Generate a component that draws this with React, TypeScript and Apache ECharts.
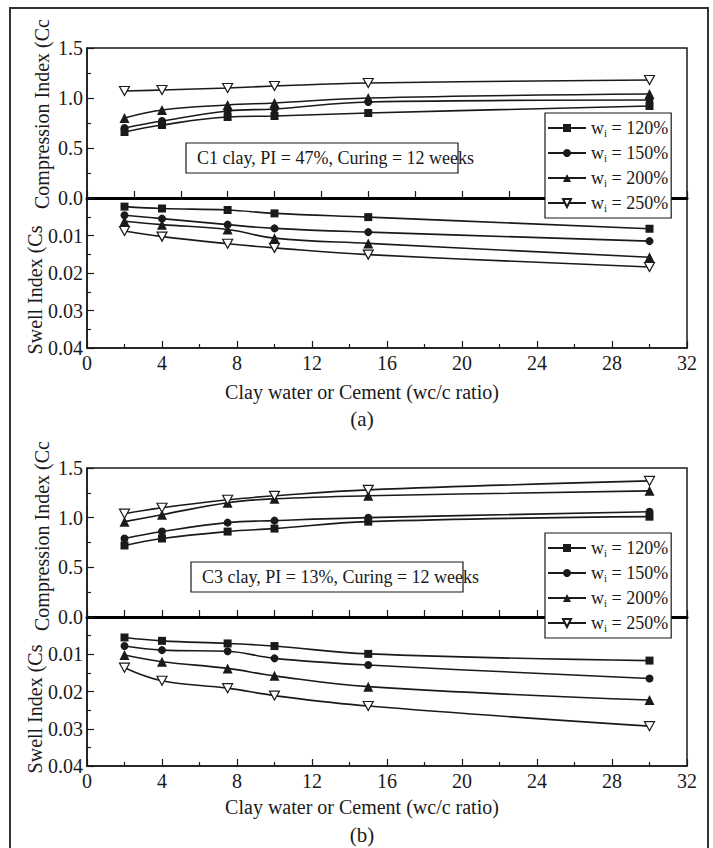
import React, { useEffect, useRef } from "react";
import * as echarts from "echarts";

const FONT = "Liberation Serif, Times New Roman, serif";
const INK = "#1a1a1a";

// x values (clay water / cement ratio)
const xValues = [2, 4, 7.5, 10, 15, 30];
const seriesNames = ["wi = 120%", "wi = 150%", "wi = 200%", "wi = 250%"];

// Panel (a) C1 clay — compression index
const a_cc120 = [0.66, 0.73, 0.81, 0.82, 0.85, 0.92];
const a_cc150 = [0.7, 0.77, 0.87, 0.89, 0.96, 0.98];
const a_cc200 = [0.8, 0.88, 0.93, 0.95, 1.0, 1.04];
const a_cc250 = [1.07, 1.08, 1.1, 1.12, 1.15, 1.18];
// Panel (a) — swell index
const a_cs120 = [0.0023, 0.0028, 0.0032, 0.0041, 0.0051, 0.0082];
const a_cs150 = [0.0046, 0.0055, 0.0071, 0.0081, 0.0091, 0.0115];
const a_cs200 = [0.0062, 0.0071, 0.0084, 0.0107, 0.0121, 0.0158];
const a_cs250 = [0.0088, 0.0103, 0.0122, 0.0133, 0.0151, 0.0184];

// Panel (b) C3 clay — compression index
const b_cc120 = [0.72, 0.79, 0.86, 0.89, 0.96, 1.01];
const b_cc150 = [0.79, 0.86, 0.95, 0.97, 1.0, 1.06];
const b_cc200 = [0.96, 1.03, 1.15, 1.19, 1.22, 1.27];
const b_cc250 = [1.04, 1.1, 1.18, 1.22, 1.28, 1.37];
// Panel (b) — swell index
const b_cs120 = [0.0055, 0.0064, 0.0071, 0.0078, 0.0099, 0.0117];
const b_cs150 = [0.0078, 0.0089, 0.0092, 0.0111, 0.0129, 0.0165];
const b_cs200 = [0.0102, 0.012, 0.0138, 0.0158, 0.0187, 0.0223];
const b_cs250 = [0.0136, 0.0171, 0.0191, 0.0211, 0.0239, 0.0293];

const annotationA = "C1 clay, PI = 47%, Curing = 12 weeks";
const annotationB = "C3 clay, PI = 13%, Curing = 12 weeks";
const xName = "Clay water or Cement (wc/c ratio)";

const SYMBOLS = [
  { symbol: "rect", size: 8, fill: INK },
  { symbol: "circle", size: 8, fill: INK },
  { symbol: "triangle", size: 10, fill: INK },
  { symbol: "path://M0,0 L10,0 L5,9 Z", size: [10, 9], fill: "#ffffff" },
];

function makeSeries(idx: number, values: number[], axisIndex: number) {
  const s = SYMBOLS[idx];
  return {
    type: "line",
    name: seriesNames[idx],
    xAxisIndex: axisIndex,
    yAxisIndex: axisIndex,
    data: xValues.map((x, i) => [x, values[i]]),
    smooth: 0.4,
    symbol: s.symbol,
    symbolSize: s.size,
    showAllSymbol: true,
    lineStyle: { color: INK, width: 1.6 },
    itemStyle: { color: s.fill, borderColor: INK, borderWidth: idx === 3 ? 1.2 : 0 },
    emphasis: { disabled: true },
    z: 5 + idx,
  };
}

function gridDef(top: number, height: number) {
  return {
    left: 87,
    top,
    width: 600,
    height,
    show: true,
    borderColor: INK,
    borderWidth: 1.5,
    backgroundColor: "transparent",
  };
}

const labelStyle = { fontFamily: FONT, fontSize: 20, color: INK };

function upperX(grid: number, interval: number) {
  return {
    type: "value",
    gridIndex: grid,
    min: 0,
    max: 32,
    interval,
    axisLine: { show: true, onZero: false, lineStyle: { color: "#000", width: 3 } },
    axisTick: { show: true, inside: true, length: 7, lineStyle: { color: INK, width: 1.2 } },
    axisLabel: { show: false },
    splitLine: { show: false },
  };
}

function lowerX(grid: number) {
  return {
    type: "value",
    gridIndex: grid,
    min: 0,
    max: 32,
    interval: 4,
    axisLine: { show: true, onZero: false, lineStyle: { color: INK, width: 1.5 } },
    axisTick: { show: true, inside: true, length: 7, lineStyle: { color: INK, width: 1.2 } },
    minorTick: { show: true, splitNumber: 2, length: 4, lineStyle: { color: INK, width: 1.2 } },
    axisLabel: { ...labelStyle, margin: 5 },
    splitLine: { show: false },
  };
}

function upperY(grid: number) {
  return {
    type: "value",
    gridIndex: grid,
    min: 0,
    max: 1.5,
    interval: 0.5,
    axisLine: { show: true, onZero: false, lineStyle: { color: INK, width: 1.5 } },
    axisTick: { show: true, inside: true, length: 7, lineStyle: { color: INK, width: 1.2 } },
    minorTick: { show: true, splitNumber: 2, length: 4, lineStyle: { color: INK, width: 1.2 } },
    axisLabel: { ...labelStyle, margin: 4, formatter: (v: number) => v.toFixed(1) },
    splitLine: { show: false },
  };
}

function lowerY(grid: number) {
  return {
    type: "value",
    gridIndex: grid,
    inverse: true,
    min: 0,
    max: 0.04,
    interval: 0.01,
    axisLine: { show: true, onZero: false, lineStyle: { color: INK, width: 1.5 } },
    axisTick: { show: true, inside: true, length: 7, lineStyle: { color: INK, width: 1.2 } },
    minorTick: { show: true, splitNumber: 2, length: 4, lineStyle: { color: INK, width: 1.2 } },
    axisLabel: {
      ...labelStyle,
      margin: 4,
      formatter: (v: number) => (v === 0 ? "" : v.toFixed(2)),
    },
    splitLine: { show: false },
  };
}

function legendDef(top: number) {
  return {
    orient: "vertical",
    left: 545,
    top,
    itemWidth: 38,
    itemHeight: 10,
    itemGap: 5,
    padding: [5, 3, 5, 2],
    backgroundColor: "#ffffff",
    borderColor: INK,
    borderWidth: 1.2,
    borderRadius: 0,
    selectedMode: false,
    data: seriesNames,
    formatter: (name: string) => `{w|w}{i|i}{t| = ${name.split("= ")[1]}}`,
    textStyle: {
      fontFamily: FONT,
      color: INK,
      fontSize: 18,
      lineHeight: 20,
      rich: {
        w: { fontFamily: FONT, fontSize: 18, color: INK, lineHeight: 20 },
        i: { fontFamily: FONT, fontSize: 11, color: INK, lineHeight: 12, verticalAlign: "bottom" },
        t: { fontFamily: FONT, fontSize: 18, color: INK, lineHeight: 20 },
      },
    },
    z: 20,
  };
}

function textEl(text: string, x: number, y: number, size: number, rotate = false, align = "center") {
  return {
    type: "text",
    x,
    y,
    rotation: rotate ? Math.PI / 2 : 0,
    z: 30,
    style: {
      text,
      fill: INK,
      fontFamily: FONT,
      fontSize: size,
      textAlign: align,
      textVerticalAlign: "middle",
    },
  };
}

function annotation(text: string, bx: number, by: number, bw: number, bh: number, tx: number) {
  return [
    {
      type: "rect",
      shape: { x: bx, y: by, width: bw, height: bh },
      style: { fill: "#ffffff", stroke: INK, lineWidth: 1.2 },
      z: 25,
    },
    textEl(text, tx, by + bh / 2, 18, false, "left"),
  ];
}

export default function App() {
  const ref = useRef<HTMLDivElement>(null);

  useEffect(() => {
    if (!ref.current) return;
    const chart = echarts.init(ref.current, undefined, { renderer: "svg" });

    const option = {
      animation: false,
      backgroundColor: "#ffffff",
      textStyle: { fontFamily: FONT },
      grid: [gridDef(48, 150), gridDef(198, 150), gridDef(468, 149), gridDef(617, 149)],
      xAxis: [upperX(0, 2.5), lowerX(1), upperX(2, 2), lowerX(3)],
      yAxis: [upperY(0), lowerY(1), upperY(2), lowerY(3)],
      legend: [legendDef(113), legendDef(533)],
      series: [
        makeSeries(0, a_cc120, 0),
        makeSeries(1, a_cc150, 0),
        makeSeries(2, a_cc200, 0),
        makeSeries(3, a_cc250, 0),
        makeSeries(0, a_cs120, 1),
        makeSeries(1, a_cs150, 1),
        makeSeries(2, a_cs200, 1),
        makeSeries(3, a_cs250, 1),
        makeSeries(0, b_cc120, 2),
        makeSeries(1, b_cc150, 2),
        makeSeries(2, b_cc200, 2),
        makeSeries(3, b_cc250, 2),
        makeSeries(0, b_cs120, 3),
        makeSeries(1, b_cs150, 3),
        makeSeries(2, b_cs200, 3),
        makeSeries(3, b_cs250, 3),
      ],
      graphic: [
        {
          type: "rect",
          shape: { x: 10, y: 8, width: 698, height: 870 },
          style: { fill: "none", stroke: "#333", lineWidth: 2 },
          z: 1,
        },
        textEl("Compression Index (Cc", 42, 114, 20, true),
        textEl("Swell Index (Cs", 35, 290, 20, true),
        textEl(xName, 362, 392, 20),
        textEl("(a)", 362, 419, 21),
        textEl("Compression Index (Cc", 42, 536, 20, true),
        textEl("Swell Index (Cs", 35, 709, 20, true),
        textEl(xName, 362, 807, 20),
        textEl("(b)", 362, 835, 21),
        ...annotation(annotationA, 186, 143, 272, 30, 197),
        ...annotation(annotationB, 191, 562, 272, 30, 202),
      ],
    };

    chart.setOption(option as any);
    return () => chart.dispose();
  }, []);

  return (
    <div
      ref={ref}
      style={{ position: "absolute", left: 0, top: 0, width: 713, height: 848 }}
    />
  );
}
